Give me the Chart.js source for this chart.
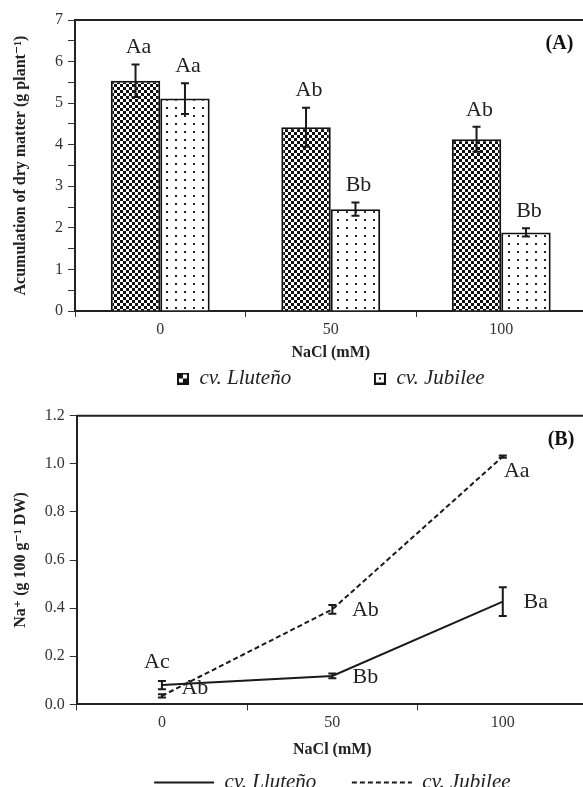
<!DOCTYPE html>
<html>
<head>
<meta charset="utf-8">
<script src="https://cdn.jsdelivr.net/npm/chart.js@4.4.1/dist/chart.umd.min.js"></script>
<style>
  html, body { margin: 0; padding: 0; background: #fff; overflow: hidden; }
  #wrap { position: relative; width: 583px; height: 787px; overflow: hidden; }
  canvas { position: absolute; left: 0; }
  #dryCanvas { top: 0; }
  #naCanvas { top: 395px; }
</style>
</head>
<body>
<div id="wrap">
  <canvas id="dryCanvas" width="592" height="399"></canvas>
  <canvas id="naCanvas" width="592" height="408"></canvas>
</div>
<script>
// NaCl treatments (mM) and cultivars
const nacl = ['0', '50', '100'];
const cultivars = ['cv. Lluteño', 'cv. Jubilee'];

// (A) accumulation of dry matter, g plant-1
const dryLluteno = [5.54, 4.42, 4.13];
const dryJubilee = [5.11, 2.45, 1.89];
const dryLlutenoErr = [0.39, 0.47, 0.30];
const dryJubileeErr = [0.37, 0.16, 0.10];
const dryLlutenoSig = ['Aa', 'Ab', 'Ab'];
const dryJubileeSig = ['Aa', 'Bb', 'Bb'];
const dryYMax = 7;

// (B) Na+ content, g 100 g-1 DW
const naLluteno = [0.08, 0.118, 0.427];
const naJubilee = [0.035, 0.395, 1.03];
const naLlutenoErr = [0.017, 0.01, 0.06];
const naJubileeErr = [0.007, 0.018, 0.005];
const naLlutenoSig = ['Ac', 'Bb', 'Ba'];
const naJubileeSig = ['Ab', 'Ab', 'Aa'];
const naYMax = 1.2;

// where the significance letters sit relative to the point
const naLlutenoSide = ['above', 'right', 'right'];
const naJubileeSide = ['upRight', 'right', 'below'];

const serif = '"Liberation Serif", "DejaVu Serif", serif';
const ink = '#1a1a1a';

function fillPattern(ctx, kind) {
  const c = document.createElement('canvas');
  const g = c.getContext('2d');
  if (kind === 'checker') {
    c.width = 6; c.height = 6;
    g.fillStyle = '#fff'; g.fillRect(0, 0, 6, 6);
    g.fillStyle = '#111'; g.fillRect(0, 0, 3, 3); g.fillRect(3, 3, 3, 3);
  } else {
    c.width = 9; c.height = 8;
    g.fillStyle = '#fff'; g.fillRect(0, 0, 9, 8);
    g.fillStyle = '#222'; g.fillRect(4, 3, 2, 2);
  }
  return ctx.createPattern(c, 'repeat');
}

function legendIcon(kind) {
  const c = document.createElement('canvas');
  c.width = 12; c.height = 12;
  const g = c.getContext('2d');
  g.fillStyle = '#fff'; g.fillRect(0, 0, 12, 12);
  g.fillStyle = '#111';
  if (kind === 'checker') { g.fillRect(2, 2, 4, 4); g.fillRect(6, 6, 4, 4); }
  else g.fillRect(5, 5, 2, 2);
  g.strokeStyle = '#111'; g.lineWidth = 2; g.strokeRect(1, 1, 10, 10);
  return c;
}

// top frame line and panel tag
const panelFrame = {
  id: 'panelFrame',
  afterDraw(chart, args, opts) {
    const {ctx, chartArea: a} = chart;
    ctx.save();
    ctx.strokeStyle = '#222';
    ctx.lineWidth = 2;
    ctx.beginPath();
    ctx.moveTo(a.left, a.top);
    ctx.lineTo(a.right, a.top);
    ctx.stroke();
    ctx.font = 'bold 20px ' + serif;
    ctx.fillStyle = '#111';
    ctx.textAlign = 'center';
    ctx.textBaseline = 'middle';
    ctx.fillText(opts.tag, a.right - 27, a.top + 24);
    ctx.restore();
  }
};

// error bars + significance letters
const errorBars = {
  id: 'errorBars',
  afterDatasetsDraw(chart, args, opts) {
    const {ctx} = chart;
    const y = chart.scales.y;
    const offsets = {above: opts.above, right: [33, 1], upRight: [33, -8], below: [14, 15]};
    ctx.save();
    ctx.strokeStyle = ink;
    ctx.lineWidth = 2;
    ctx.fillStyle = '#222';
    ctx.font = '22px ' + serif;
    ctx.textAlign = 'center';
    ctx.textBaseline = 'middle';
    chart.data.datasets.forEach((ds, i) => {
      chart.getDatasetMeta(i).data.forEach((el, j) => {
        const v = ds.data[j], e = ds.errors[j];
        const top = y.getPixelForValue(v + e);
        const bot = y.getPixelForValue(v - e);
        ctx.beginPath();
        ctx.moveTo(el.x, top); ctx.lineTo(el.x, bot);
        ctx.moveTo(el.x - 4, top); ctx.lineTo(el.x + 4, top);
        ctx.moveTo(el.x - 4, bot); ctx.lineTo(el.x + 4, bot);
        ctx.stroke();
        const side = ds.sigSide ? ds.sigSide[j] : 'above';
        const off = offsets[side];
        const anchor = opts.fromErrTop ? top : y.getPixelForValue(v);
        ctx.fillText(ds.sig[j], el.x + off[0], anchor + off[1]);
      });
    });
    ctx.restore();
  }
};

const axisFont = {family: serif, size: 16};
const titleFont = {family: serif, size: 16, weight: 'bold'};

function xAxis(height, titleBottom) {
  return {
    offset: true,
    grid: {offset: true, drawOnChartArea: false, drawTicks: true, tickLength: 6, color: '#333'},
    border: {display: true, color: '#222', width: 2},
    ticks: {font: axisFont, color: '#333', padding: 3},
    title: {display: true, text: 'NaCl (mM)', font: titleFont, color: '#222', padding: {top: 0, bottom: titleBottom}},
    afterFit(scale) { scale.height = height; }
  };
}

// (A) bar chart
const dryCtx = document.getElementById('dryCanvas').getContext('2d');
const dryIcons = [legendIcon('checker'), legendIcon('dots')];
new Chart(dryCtx, {
  type: 'bar',
  data: {
    labels: nacl,
    datasets: [
      {
        label: cultivars[0],
        data: dryLluteno,
        errors: dryLlutenoErr,
        sig: dryLlutenoSig,
        backgroundColor: fillPattern(dryCtx, 'checker'),
        borderColor: '#111',
        borderWidth: 2,
        categoryPercentage: 0.58,
        barPercentage: 1
      },
      {
        label: cultivars[1],
        data: dryJubilee,
        errors: dryJubileeErr,
        sig: dryJubileeSig,
        backgroundColor: fillPattern(dryCtx, 'dots'),
        borderColor: '#111',
        borderWidth: 2,
        categoryPercentage: 0.58,
        barPercentage: 1
      }
    ]
  },
  options: {
    responsive: false,
    animation: false,
    devicePixelRatio: 1,
    layout: {padding: {top: 20, right: 5.5, left: 0, bottom: 0}},
    scales: {
      x: xAxis(53, 1.4),
      y: {
        min: 0,
        max: dryYMax,
        ticks: {
          stepSize: 0.5,
          autoSkip: false,
          font: axisFont,
          color: '#333',
          padding: 5,
          callback: v => Math.abs(v - Math.round(v)) < 1e-6 ? Math.round(v) : ''
        },
        grid: {drawOnChartArea: false, tickLength: 7, color: '#333'},
        border: {display: true, color: '#222', width: 2},
        title: {display: true, text: 'Acumulation of dry matter (g plant⁻¹)', font: titleFont, color: '#222', padding: {top: 11, bottom: 0}},
        afterFit(scale) { scale.width = 75; }
      }
    },
    plugins: {
      tooltip: {enabled: false},
      legend: {
        position: 'bottom',
        fullSize: false,
        labels: {
          usePointStyle: true,
          boxWidth: 12,
          boxHeight: 12,
          padding: 4,
          color: '#222',
          font: {family: serif, size: 21, style: 'italic'},
          generateLabels(chart) {
            const items = Chart.defaults.plugins.legend.labels.generateLabels(chart);
            return items.map((it, i) => Object.assign(it, {
              pointStyle: dryIcons[i],
              text: it.text + (i === 0 ? ' '.repeat(15) : '')
            }));
          }
        }
      },
      panelFrame: {tag: '(A)'},
      errorBars: {fromErrTop: true, above: [3, -17]}
    }
  },
  plugins: [panelFrame, errorBars]
});

// (B) line chart
const naCtx = document.getElementById('naCanvas').getContext('2d');
new Chart(naCtx, {
  type: 'line',
  data: {
    labels: nacl,
    datasets: [
      {
        label: cultivars[0],
        data: naLluteno,
        errors: naLlutenoErr,
        sig: naLlutenoSig,
        sigSide: naLlutenoSide,
        borderColor: ink,
        borderWidth: 2,
        pointRadius: 0,
        fill: false,
        tension: 0
      },
      {
        label: cultivars[1],
        data: naJubilee,
        errors: naJubileeErr,
        sig: naJubileeSig,
        sigSide: naJubileeSide,
        borderColor: ink,
        borderWidth: 2,
        borderDash: [5, 3],
        pointRadius: 0,
        fill: false,
        tension: 0
      }
    ]
  },
  options: {
    responsive: false,
    animation: false,
    devicePixelRatio: 1,
    layout: {padding: {top: 20.7, right: 4, left: 0, bottom: 0}},
    scales: {
      x: xAxis(63.7, 8.4),
      y: {
        min: 0,
        max: naYMax,
        ticks: {
          stepSize: 0.2,
          font: axisFont,
          color: '#333',
          padding: 5,
          callback: v => v.toFixed(1)
        },
        grid: {drawOnChartArea: false, tickLength: 7, color: '#333'},
        border: {display: true, color: '#222', width: 2},
        title: {display: true, text: 'Na⁺ (g 100 g⁻¹ DW)', font: titleFont, color: '#222', padding: {top: 11, bottom: 0}},
        afterFit(scale) { scale.width = 76.7; }
      }
    },
    plugins: {
      tooltip: {enabled: false},
      legend: {
        position: 'bottom',
        fullSize: false,
        labels: {
          usePointStyle: true,
          pointStyle: 'line',
          pointStyleWidth: 60,
          padding: 4,
          color: '#222',
          font: {family: serif, size: 21, style: 'italic'},
          generateLabels(chart) {
            const items = Chart.defaults.plugins.legend.labels.generateLabels(chart);
            return items.map((it, i) => Object.assign(it, {
              pointStyle: 'line',
              strokeStyle: ink,
              lineWidth: 2,
              lineDash: chart.data.datasets[i].borderDash || [],
              text: it.text + (i === 0 ? ' '.repeat(6) : '')
            }));
          }
        }
      },
      panelFrame: {tag: '(B)'},
      errorBars: {fromErrTop: false, above: [-5, -23]}
    }
  },
  plugins: [panelFrame, errorBars]
});
</script>
</body>
</html>
